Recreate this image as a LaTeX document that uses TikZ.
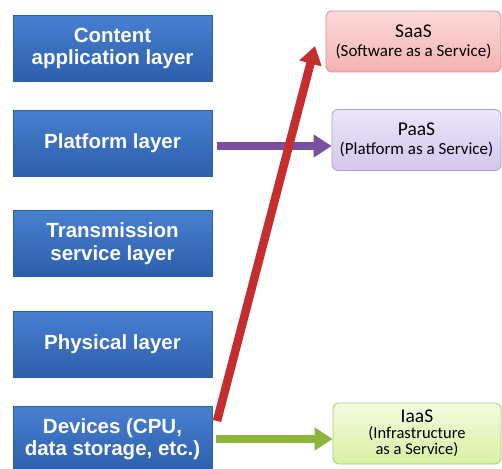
\documentclass[tikz,border=0pt]{standalone}
\usepackage{fontspec}
\setmainfont{Liberation Sans}
\newfontfamily\svcfont{Carlito}
\usetikzlibrary{arrows.meta}
\definecolor{layertop}{RGB}{72,128,208}
\definecolor{layerbot}{RGB}{44,94,172}
\definecolor{saasfill}{RGB}{244,178,178}
\definecolor{saastop}{RGB}{252,218,218}
\definecolor{saasdraw}{RGB}{222,140,140}
\definecolor{paasfill}{RGB}{212,198,238}
\definecolor{paastop}{RGB}{236,230,250}
\definecolor{paasdraw}{RGB}{176,160,210}
\definecolor{iaasfill}{RGB}{216,240,162}
\definecolor{iaastop}{RGB}{244,251,224}
\definecolor{iaasdraw}{RGB}{170,200,130}
\definecolor{arrred}{RGB}{196,46,44}
\definecolor{arrpurple}{RGB}{122,78,160}
\definecolor{arrgreen}{RGB}{141,181,60}
\tikzset{
  layer/.style={rectangle, minimum width=199pt, minimum height=66pt,
    top color=layertop, bottom color=layerbot, draw=layerbot, line width=0.6pt,
    text=white, font=\fontsize{20.5}{22.5}\selectfont\bfseries, align=center, inner sep=0pt},
  service/.style={rounded corners=6pt, minimum height=61pt, line width=0.8pt,
    align=center, inner sep=0pt, font=\svcfont\fontsize{17}{18}\selectfont},
  fat/.style={line width=8.5pt, -{Triangle[width=22pt,length=18pt]}}
}
\newcommand{\svctitle}[1]{{\svcfont\fontsize{19.5}{20}\selectfont #1}}
\begin{document}
\begin{tikzpicture}[x=1pt,y=-1pt]
\clip (0,0) rectangle (502,468);
\fill[white] (0,0) rectangle (502,468);

% protocol layers
\node[layer] (content) at (112.5,48.5) {Content\\application layer};
\node[layer] (platform) at (112.5,143) {Platform layer};
\node[layer] (trans) at (112.5,243.5) {Transmission\\service layer};
\node[layer] (phys) at (112.5,344.5) {Physical layer};
\node[layer] (dev) at (112.5,439) {Devices (CPU,\\data storage, etc.)};

% service models
\node[service, minimum width=175pt, top color=saastop, bottom color=saasfill, draw=saasdraw]
  (saas) at (413.5,41.5) {\svctitle{SaaS}\\[1pt](Software as a Service)};
\node[service, minimum width=169pt, top color=paastop, bottom color=paasfill, draw=paasdraw]
  (paas) at (416.5,140) {\svctitle{PaaS}\\[1pt](Platform as a Service)};
\node[service, minimum width=168pt, top color=iaastop, bottom color=iaasfill, draw=iaasdraw,
  font=\svcfont\fontsize{16.5}{16}\selectfont]
  (iaas) at (417,433.5) {\svctitle{IaaS}\\(Infrastructure\\as a Service)};

% mapping arrows
\coordinate (purplestart) at (217,146);
\coordinate (redstart) at (217,421);
\coordinate (redtip) at (315,46);
\coordinate (greenstart) at (216,439);
\draw[fat, arrpurple] (purplestart) -- (purplestart -| paas.west);
\draw[fat, arrred] (redstart) -- (redtip);
\draw[fat, arrgreen] (greenstart) -- (greenstart -| iaas.west);
\end{tikzpicture}
\end{document}
